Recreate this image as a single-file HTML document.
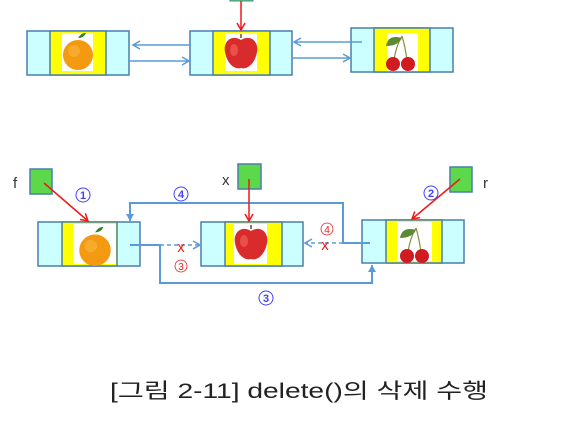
<!DOCTYPE html>
<html><head><meta charset="utf-8"><style>
html,body{margin:0;padding:0;background:#fff;width:570px;height:421px;overflow:hidden}
svg{display:block}
</style></head><body>
<svg width="570" height="421" viewBox="0 0 570 421" xmlns="http://www.w3.org/2000/svg">
<defs>
<g id="orange"><path d="M0,-13 q4,-6 8,-5 q-2,5 -8,5z" fill="#3a7d2a"/><circle cx="0" cy="4" r="15" fill="#f39a10"/><circle cx="-4" cy="0" r="6" fill="#f8b840" opacity="0.6"/></g>
<g id="apple"><path d="M0,-16 v-4" stroke="#6b4a20" stroke-width="1.5"/><path d="M0,-14 c-10,-6 -18,2 -16,12 c2,12 10,18 16,16 c6,2 14,-4 16,-16 c2,-10 -6,-18 -16,-12z" fill="#d92b2b"/><ellipse cx="-7" cy="-4" rx="4" ry="6" fill="#f06a5a" opacity="0.6"/></g>
<g id="cherry"><path d="M-6,8 q2,-14 8,-24 M7,8 q-2,-14 -5,-24" stroke="#8a8a3a" stroke-width="1.2" fill="none"/><path d="M2,-14 q-14,-4 -16,8 q12,0 16,-8z" fill="#5c8a32"/><circle cx="-7" cy="12" r="7" fill="#d01c20"/><circle cx="8" cy="12" r="7" fill="#d01c20"/></g>
<marker id="ab" markerWidth="10" markerHeight="10" refX="8" refY="5" orient="auto" markerUnits="userSpaceOnUse"><path d="M1,1 L8,5 L1,9" fill="none" stroke="#5b9bd5" stroke-width="1.5"/></marker>
<marker id="abs" markerWidth="8" markerHeight="8" refX="7" refY="4" orient="auto" markerUnits="userSpaceOnUse"><path d="M0,0 L7,4 L0,8z" fill="#5b9bd5"/></marker>
<marker id="ar" markerWidth="10" markerHeight="10" refX="8" refY="5" orient="auto" markerUnits="userSpaceOnUse"><path d="M1,1 L8,5 L1,9" fill="none" stroke="#f01818" stroke-width="1.5"/></marker>
</defs>
<g stroke="#4a7fae" stroke-width="1.5">
<!-- top nodes -->
<rect x="27" y="31" width="102" height="44" fill="#ccffff"/><rect x="50" y="31" width="56" height="44" fill="#ffff00"/><rect x="62" y="33" width="31" height="38" fill="#fff" stroke="none"/>
<rect x="190" y="31" width="102" height="44" fill="#ccffff"/><rect x="213" y="31" width="57" height="44" fill="#ffff00"/><rect x="225" y="33" width="32" height="38" fill="#fff" stroke="none"/>
<rect x="351" y="28" width="102" height="44" fill="#ccffff"/><rect x="374" y="28" width="56" height="44" fill="#ffff00"/><rect x="387" y="33" width="31" height="38" fill="#fff" stroke="none"/>
<!-- bottom nodes -->
<rect x="38" y="222" width="102" height="44" fill="#ccffff"/><rect x="62" y="222" width="55" height="44" fill="#ffff00"/><rect x="73" y="224" width="43" height="40" fill="#fff" stroke="none"/>
<rect x="201" y="222" width="102" height="44" fill="#ccffff"/><rect x="225" y="222" width="57" height="44" fill="#ffff00"/><rect x="234" y="224" width="33" height="40" fill="#fff" stroke="none"/>
<rect x="362" y="220" width="102" height="43" fill="#ccffff"/><rect x="386" y="220" width="56" height="43" fill="#ffff00"/><rect x="397" y="222" width="35" height="39" fill="#fff" stroke="none"/>
</g>
<use href="#orange" x="78" y="51"/><use href="#apple" x="241" y="54"/><use href="#cherry" x="400" y="52"/>
<use href="#orange" x="95" y="246" transform="translate(95,246) scale(1.05) translate(-95,-246)"/><use href="#apple" x="251" y="245"/><use href="#cherry" x="414" y="244"/>
<!-- top arrows -->
<rect x="230" y="-5" width="23" height="6" fill="#5dd84a" stroke="#4a7fae"/>
<line x1="241" y1="1" x2="241" y2="30" stroke="#f01818" stroke-width="1.5" marker-end="url(#ar)"/>
<g stroke="#5b9bd5" stroke-width="1.5" fill="none">
<line x1="190" y1="45" x2="133" y2="45" marker-end="url(#ab)"/>
<line x1="129" y1="61" x2="189" y2="61" marker-end="url(#ab)"/>
<line x1="362" y1="42" x2="294" y2="42" marker-end="url(#ab)"/>
<line x1="292" y1="58" x2="350" y2="58" marker-end="url(#ab)"/>
<!-- bottom lines -->
<polyline points="370,243 343,243 343,203 130,203 130,221" stroke-width="2" marker-end="url(#abs)"/>
<polyline points="130,245 160,245 160,283 372,283 372,265" stroke-width="2" marker-end="url(#abs)"/>
<line x1="160" y1="245" x2="200" y2="245" stroke-dasharray="4,3" marker-end="url(#ab)"/>
<line x1="343" y1="243" x2="305" y2="243" stroke-dasharray="4,3" marker-end="url(#ab)"/>
</g>
<!-- pointers -->
<g fill="#5dd84a" stroke="#4a7fae" stroke-width="1.5">
<rect x="30" y="169" width="22" height="25"/><rect x="238" y="164" width="23" height="25"/><rect x="450" y="167" width="22" height="25"/>
</g>
<g stroke="#f01818" stroke-width="1.5">
<line x1="44" y1="183" x2="88" y2="221" marker-end="url(#ar)"/>
<line x1="249" y1="179" x2="249" y2="221" marker-end="url(#ar)"/>
<line x1="460" y1="179" x2="412" y2="219" marker-end="url(#ar)"/>
</g>
<g font-family="Liberation Sans, sans-serif" font-size="15" fill="#333">
<text x="13" y="188">f</text><text x="222" y="185">x</text><text x="483" y="188">r</text>
</g>
<g font-family="Liberation Sans, sans-serif" font-size="11" font-weight="bold" fill="#4040ff" text-anchor="middle">
<circle cx="83" cy="195" r="7" fill="none" stroke="#4040ff"/><text x="83" y="199">1</text>
<circle cx="181" cy="194" r="7" fill="none" stroke="#4040ff"/><text x="181" y="198">4</text>
<circle cx="431" cy="193" r="7" fill="none" stroke="#4040ff"/><text x="431" y="197">2</text>
<circle cx="266" cy="298" r="7" fill="none" stroke="#4040ff"/><text x="266" y="302">3</text>
</g>
<g font-family="Liberation Sans, sans-serif" font-size="10" fill="#f01818" text-anchor="middle">
<circle cx="181" cy="266" r="6" fill="none" stroke="#f01818" stroke-width="0.8"/><text x="181" y="270">3</text>
<circle cx="327" cy="229" r="6" fill="none" stroke="#f01818" stroke-width="0.8"/><text x="327" y="233">4</text>
<text x="181" y="252" font-size="15">x</text><text x="325" y="250" font-size="15">x</text>
</g>
<text x="110" y="398" font-family="Liberation Sans, 'Noto Sans CJK KR', sans-serif" font-size="21" fill="#222" textLength="378" lengthAdjust="spacingAndGlyphs">[그림 2-11] delete()의 삭제 수행</text>
</svg>
</body></html>
